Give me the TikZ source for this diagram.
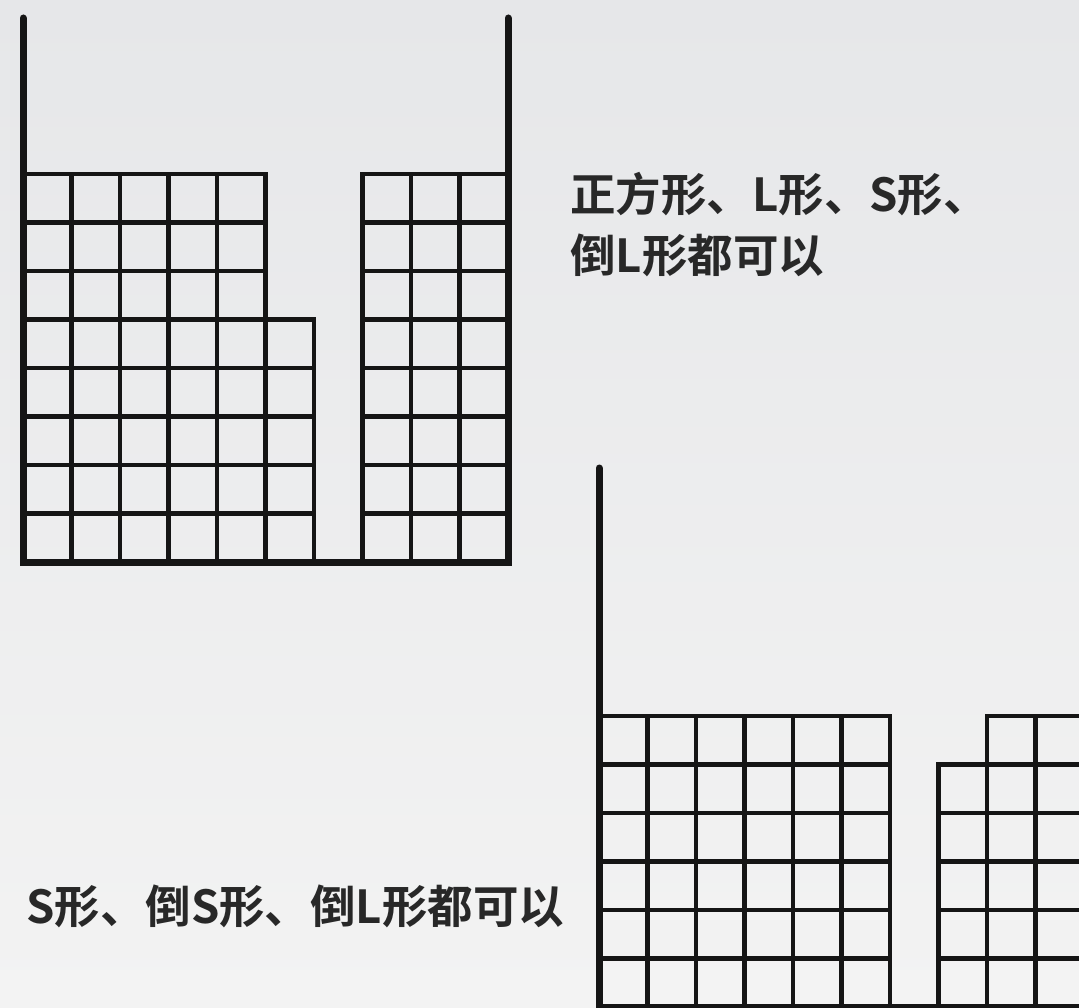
\documentclass[tikz,border=0pt]{standalone}
\usepackage{fontspec}
\newfontfamily\cjk{Noto Sans CJK SC}[BoldFont={Noto Sans CJK SC Bold}]
\definecolor{paperTop}{HTML}{E6E7E9}
\definecolor{paperBot}{HTML}{F3F3F3}
\definecolor{ink}{HTML}{151515}
\tikzset{
  wall/.style={draw=ink, line width=7pt, line cap=round, line join=miter},
  cellbox/.style={draw=ink, line width=4.8pt},
  caption/.style={inner sep=0pt, text=ink!92, font=\cjk\bfseries\fontsize{45.5}{52}\selectfont}
}
% cells of a column: \cellcol{x0}{ybottom}{size}{count}
\newcommand\cellcol[4]{%
  \foreach \j in {1,...,#4}{
    \draw[cellbox] (#1,{#2-(\j-1)*#3}) rectangle ({#1+#3},{#2-\j*#3});
  }%
}
\begin{document}
\begin{tikzpicture}[x=1pt,y=-1pt]
  \shade[top color=paperTop, bottom color=paperBot] (0,0) rectangle (1079,1008);
  \useasboundingbox (0,0) rectangle (1079,1008);
  \clip (0,0) rectangle (1079,1008);

  % ---- upper well ----
  \def\c{48.5}
  \foreach \i/\h in {0/8,1/8,2/8,3/8,4/8,5/5,7/8,8/8,9/8}{
    \cellcol{23+\i*\c}{562}{\c}{\h}
  }
  \coordinate (w1tl) at (23,18);
  \coordinate (w1bl) at (23,562);
  \coordinate (w1br) at (508,562);
  \coordinate (w1tr) at (508,18);
  \draw[wall] (w1tl) -- (w1bl) -- (w1br) -- (w1tr);

  % ---- lower well ----
  \foreach \i/\h in {0/6,1/6,2/6,3/6,4/6,5/6,7/5,8/6,9/6}{
    \cellcol{599+\i*\c}{1007}{\c}{\h}
  }
  \coordinate (w2tl) at (599,468);
  \coordinate (w2bl) at (599,1007);
  \coordinate (w2br) at (1084,1007);
  \draw[wall] (w2tl) -- (w2bl) -- (w2br);

  % ---- captions ----
  \node[caption, anchor=base west] (t1a) at (570,212) {正方形、L形、S形、};
  \node[caption, anchor=base west] (t1b) at (570,273) {倒L形都可以};
  \node[caption, anchor=base west] (t2) at (26,923) {S形、倒S形、倒L形都可以};
\end{tikzpicture}
\end{document}
